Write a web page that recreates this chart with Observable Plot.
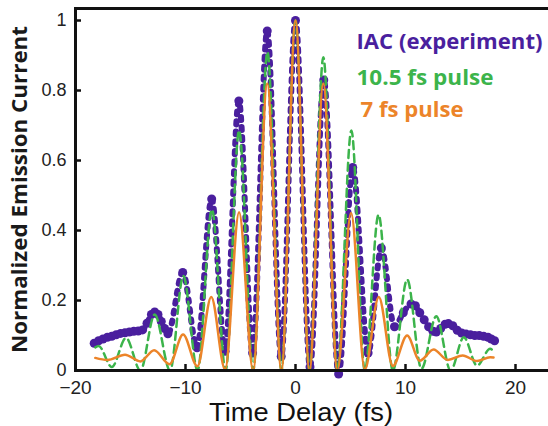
<!DOCTYPE html>
<html><head><meta charset="utf-8">
<script src="https://cdn.jsdelivr.net/npm/d3@7"></script>
<script src="https://cdn.jsdelivr.net/npm/@observablehq/plot@0.6"></script>
<style>html,body{margin:0;padding:0;background:#fff}#chart svg{display:block}</style>
</head><body><div id="chart"></div>
<script>
// Experimental IAC (purple dots)
const purpleT = [-18.3,-17.9,-17.5,-17.1,-16.7,-16.3,-15.9,-15.5,-15.1,-14.7,-14.3,-13.9,-13.5,-13.1,-12.8,-12.5,-12.2,-11.9,-11.6,-10.25,-8.95,-7.62,-6.4,-5.15,-3.9,-2.57,-1.3,0,1.32,2.57,3.92,5.2,6.6,7.8,9.0,9.8,10.5,10.9,11.3,11.7,12.1,12.5,12.8,13.2,13.6,13.9,14.3,14.7,15.1,15.5,15.9,16.3,16.7,17.1,17.5,17.8,18.1];
const purpleV = [0.078,0.085,0.09,0.095,0.098,0.102,0.106,0.108,0.11,0.112,0.113,0.116,0.135,0.16,0.167,0.16,0.14,0.12,0.105,0.28,0.065,0.49,0.055,0.77,0.05,0.97,0.04,1.0,0.01,0.83,-0.01,0.58,0.05,0.35,0.125,0.165,0.19,0.185,0.165,0.145,0.125,0.112,0.11,0.12,0.132,0.134,0.128,0.115,0.107,0.104,0.102,0.1,0.1,0.098,0.095,0.09,0.085];
// 10.5 fs pulse (green dashed)
const greenT = [-18.2,-17.9,-16.7,-15.4,-14.1,-12.8,-11.4,-10.2,-8.9,-7.6,-6.35,-5.13,-3.85,-2.55,-1.28,0,1.27,2.53,3.8,5.08,6.3,7.55,8.85,10.15,11.45,12.8,14.1,15.3,16.5,17.7,17.9];
const greenV = [0.066,0.07,0.01,0.093,0,0.16,0,0.27,0,0.46,0,0.686,0,0.91,0,1.0,0,0.895,0,0.686,0,0.445,0,0.26,0.005,0.155,0,0.095,0.014,0.062,0.058];
// 7 fs pulse (orange solid)
const orangeT = [-18.2,-17.1,-15.5,-14.1,-12.85,-11.45,-10.22,-8.92,-7.66,-6.4,-5.13,-3.85,-2.57,-1.28,0,1.27,2.53,3.8,5.05,6.3,7.57,8.85,10.15,11.3,12.55,13.85,15.2,16.5,17.7,18.0];
const orangeV = [0.036,0.03,0.045,0.026,0.058,0.018,0.103,0.012,0.21,0.003,0.452,0,0.82,0,1.0,0,0.82,0,0.45,0.003,0.21,0.013,0.1,0.028,0.06,0.03,0.043,0.027,0.038,0.037];

const xTicks = [-20, -10, 0, 10, 20];
const yTicks = [0, 0.2, 0.4, 0.6, 0.8, 1];
const legendLabels = ["IAC (experiment)", "10.5 fs pulse", "7 fs pulse"];
const xLabel = "Time Delay (fs)";
const yLabel = "Normalized Emission Current";

const purple = "#4a1f9e", green = "#3cb44b", orange = "#ec8429";
const rows = (T, V) => T.map((t, i) => ({t, v: V[i]}));
const purpleData = rows(purpleT, purpleV);
const greenData = rows(greenT, greenV);
const orangeData = rows(orangeT, orangeV);
const fmtX = d => d < 0 ? "\u2212" + Math.abs(d) : String(d);
const boldFont = "'Open Sans', 'DejaVu Sans', sans-serif";

const chart = Plot.plot({
  width: 548, height: 426,
  marginLeft: 75, marginRight: 0, marginTop: 8, marginBottom: 56,
  style: {fontFamily: "'Liberation Sans', Arial, sans-serif", fontSize: "18px", color: "#222", background: "#fff", overflow: "visible"},
  x: {domain: [-20, 23]},
  y: {domain: [0, 1.0343]},
  marks: [
    // purple experimental data
    Plot.line(purpleData, {x: "t", y: "v", stroke: purple, strokeWidth: 6, strokeDasharray: "3 7", strokeLinecap: "round", curve: "monotone-x"}),
    Plot.dot(purpleData, {x: "t", y: "v", r: 4.5, fill: purple, stroke: null}),
    // green dashed
    Plot.line(greenData, {x: "t", y: "v", stroke: green, strokeWidth: 2.5, strokeDasharray: "8 5", curve: "monotone-x"}),
    // orange solid
    Plot.line(orangeData, {x: "t", y: "v", stroke: orange, strokeWidth: 2.5, curve: "monotone-x"}),
    // frame
    Plot.frame({anchor: "left", stroke: "#111", strokeWidth: 3}),
    Plot.frame({anchor: "bottom", stroke: "#111", strokeWidth: 3}),
    Plot.frame({anchor: "top", stroke: "#111", strokeWidth: 3}),
    // ticks (inward) and labels
    Plot.axisX(xTicks, {tickSize: -6, tickFormat: () => "", strokeWidth: 2.5, stroke: "#111", label: null}),
    Plot.axisX(xTicks, {tickSize: 0, tickPadding: 10, fontSize: 19, tickFormat: fmtX, label: null}),
    Plot.axisY(yTicks, {tickSize: -6, tickFormat: () => "", strokeWidth: 2.5, stroke: "#111", label: null}),
    Plot.axisY(yTicks, {tickSize: 0, tickPadding: 9, fontSize: 18, tickFormat: d => String(d), label: null}),
    // axis titles
    Plot.text([xLabel], {text: d => d, className: "xlab", frameAnchor: "bottom", dx: -11, dy: 42, lineAnchor: "middle", fontSize: 25, fill: "#111"}),
    Plot.text([yLabel], {text: d => d, className: "ylab", frameAnchor: "left", dx: -55, rotate: -90, textAnchor: "middle", lineAnchor: "middle", fontSize: 21, fontWeight: 700, fontFamily: boldFont, fill: "#1a1a1a"}),
    // legend
    Plot.text([legendLabels[0]], {text: d => d, className: "leg0", frameAnchor: "top-left", dx: 281, dy: 33, textAnchor: "start", lineAnchor: "middle", fontSize: 22, fontWeight: 700, fontFamily: boldFont, fill: purple}),
    Plot.text([legendLabels[1]], {text: d => d, className: "leg1", frameAnchor: "top-left", dx: 281, dy: 69, textAnchor: "start", lineAnchor: "middle", fontSize: 22, fontWeight: 700, fontFamily: boldFont, fill: green}),
    Plot.text([legendLabels[2]], {text: d => d, className: "leg2", frameAnchor: "top-left", dx: 285, dy: 101, textAnchor: "start", lineAnchor: "middle", fontSize: 22, fontWeight: 700, fontFamily: boldFont, fill: orange})
  ]
});
const svg = d3.select(chart);
const fit = (cls, len) => svg.selectAll(`.${cls} text`).attr("textLength", len).attr("lengthAdjust", "spacingAndGlyphs");
fit("leg0", 186); fit("leg1", 137); fit("leg2", 103); fit("ylab", 327); fit("xlab", 184);
document.getElementById("chart").appendChild(chart);
</script>
</body></html>
